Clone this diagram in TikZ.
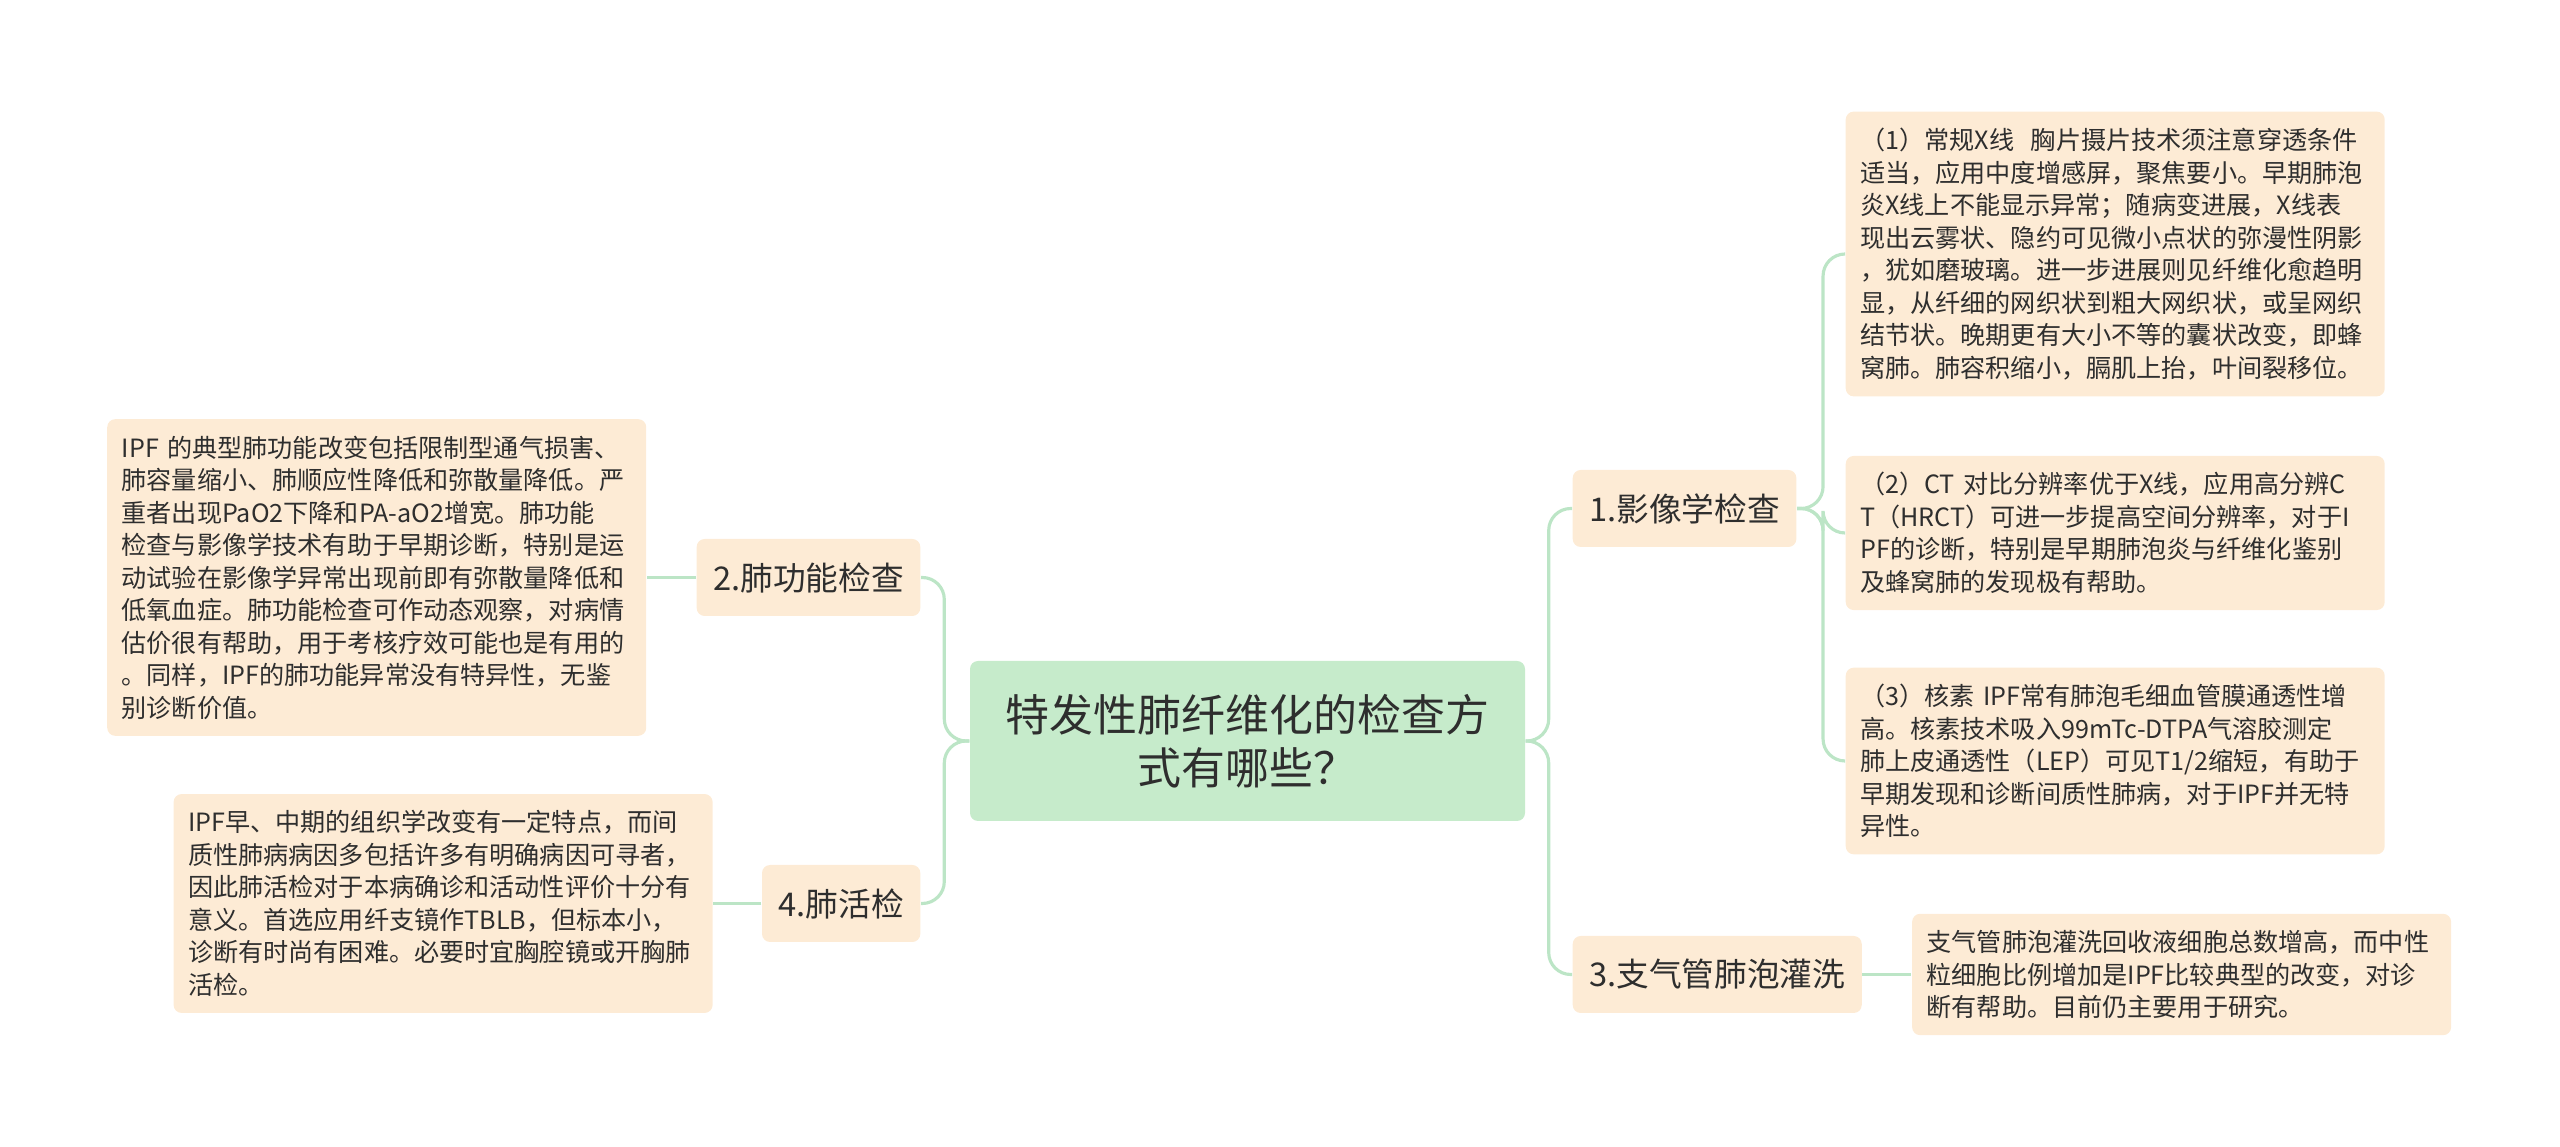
\documentclass[tikz,border=0pt]{standalone}
\usepackage{fontspec}
\newfontfamily\cjkfont{Noto Sans CJK SC}
\usetikzlibrary{positioning}
\definecolor{topicgreen}{HTML}{C6EBCB}
\definecolor{boxpeach}{HTML}{FDEBD5}
\definecolor{linkgreen}{HTML}{BCE5C6}
\definecolor{inkgrey}{HTML}{2E2E2E}
\tikzset{
    %Define standard line width
    thick,
    topic/.style={
      rectangle,
      rounded corners=0.08cm,
      fill=topicgreen,
      text=inkgrey,
      font=\cjkfont\fontsize{12.5}{15.2}\selectfont,
      minimum width=5.55cm,
      minimum height=1.6cm,
      align=center},
    branch/.style={
      rectangle,
      rounded corners=0.08cm,
      fill=boxpeach,
      text=inkgrey,
      font=\cjkfont\fontsize{9.3}{11}\selectfont,
      inner xsep=0.165cm,
      minimum height=0.77cm},
    leaf/.style={
      rectangle,
      rounded corners=0.08cm,
      fill=boxpeach,
      text=inkgrey,
      font=\cjkfont\fontsize{7.15}{9.25}\selectfont,
      text width=5.1cm,
      inner xsep=0.145cm,
      inner ysep=0.165cm,
      align=left},
    link/.style={
      draw=linkgreen,
      line width=0.9pt,
      rounded corners=0.22cm}
}

\begin{document}
\begin{tikzpicture}
    \useasboundingbox (0,0) rectangle (25.6,-11.47);
    \node (ctr) [topic] at (12.475,-7.41)
          {特发性肺纤维化的检查方\\式有哪些？};
    % right side
    \node (img) [branch, anchor=west] at (15.72,-5.085)
          {1.影像学检查};
    \node (bal) [branch, anchor=west] at (15.72,-9.745)
          {3.支气管肺泡灌洗};
    \node (xray) [leaf, anchor=west] at (18.45,-2.54)
          {（1）常规X线~~胸片摄片技术须注意穿透条件\\
           适当，应用中度增感屏，聚焦要小。早期肺泡\\
           炎X线上不能显示异常；随病变进展，X线表\\
           现出云雾状、隐约可见微小点状的弥漫性阴影\\
           ，犹如磨玻璃。进一步进展则见纤维化愈趋明\\
           显，从纤细的网织状到粗大网织状，或呈网织\\
           结节状。晚期更有大小不等的囊状改变，即蜂\\
           窝肺。肺容积缩小，膈肌上抬，叶间裂移位。};
    \node (ct) [leaf, anchor=west] at (18.45,-5.33)
          {（2）CT~对比分辨率优于X线，应用高分辨C\\
           T（HRCT）可进一步提高空间分辨率，对于I\\
           PF的诊断，特别是早期肺泡炎与纤维化鉴别\\
           及蜂窝肺的发现极有帮助。};
    \node (nuc) [leaf, anchor=west] at (18.45,-7.61)
          {（3）核素~IPF常有肺泡毛细血管膜通透性增\\
           高。核素技术吸入99mTc-DTPA气溶胶测定\\
           肺上皮通透性（LEP）可见T1/2缩短，有助于\\
           早期发现和诊断间质性肺病，对于IPF并无特\\
           异性。};
    \node (lavage) [leaf] [right=0.49cm of bal]
          {支气管肺泡灌洗回收液细胞总数增高，而中性\\
           粒细胞比例增加是IPF比较典型的改变，对诊\\
           断有帮助。目前仍主要用于研究。};
    % left side
    \node (lung) [branch, anchor=east] at (9.21,-5.775)
          {2.肺功能检查};
    \node (biop) [branch, anchor=east] at (9.21,-9.035)
          {4.肺活检};
    \node (func) [leaf] [left=0.49cm of lung]
          {IPF~的典型肺功能改变包括限制型通气损害、\\
           肺容量缩小、肺顺应性降低和弥散量降低。严\\
           重者出现PaO2下降和PA-aO2增宽。肺功能\\
           检查与影像学技术有助于早期诊断，特别是运\\
           动试验在影像学异常出现前即有弥散量降低和\\
           低氧血症。肺功能检查可作动态观察，对病情\\
           估价很有帮助，用于考核疗效可能也是有用的\\
           。同样，IPF的肺功能异常没有特异性，无鉴\\
           别诊断价值。};
    \node (tissue) [leaf] [left=0.48cm of biop]
          {IPF早、中期的组织学改变有一定特点，而间\\
           质性肺病病因多包括许多有明确病因可寻者，\\
           因此肺活检对于本病确诊和活动性评价十分有\\
           意义。首选应用纤支镜作TBLB，但标本小，\\
           诊断有时尚有困难。必要时宜胸腔镜或开胸肺\\
           活检。};
    % connectors
    \draw [link] (ctr.east) -- ++(0.23,0) |- (img.west);
    \draw [link] (ctr.east) -- ++(0.23,0) |- (bal.west);
    \draw [link] (ctr.west) -- ++(-0.25,0) |- (lung.east);
    \draw [link] (ctr.west) -- ++(-0.25,0) |- (biop.east);
    \draw [link] (img.east) -- ++(0.26,0) |- (xray.west);
    \draw [link] (img.east) -- ++(0.26,0) |- (ct.west);
    \draw [link] (img.east) -- ++(0.26,0) |- (nuc.west);
    \draw [link] (bal.east) -- (lavage.west);
    \draw [link] (lung.west) -- (func.east);
    \draw [link] (biop.west) -- (tissue.east);
\end{tikzpicture}
\end{document}
